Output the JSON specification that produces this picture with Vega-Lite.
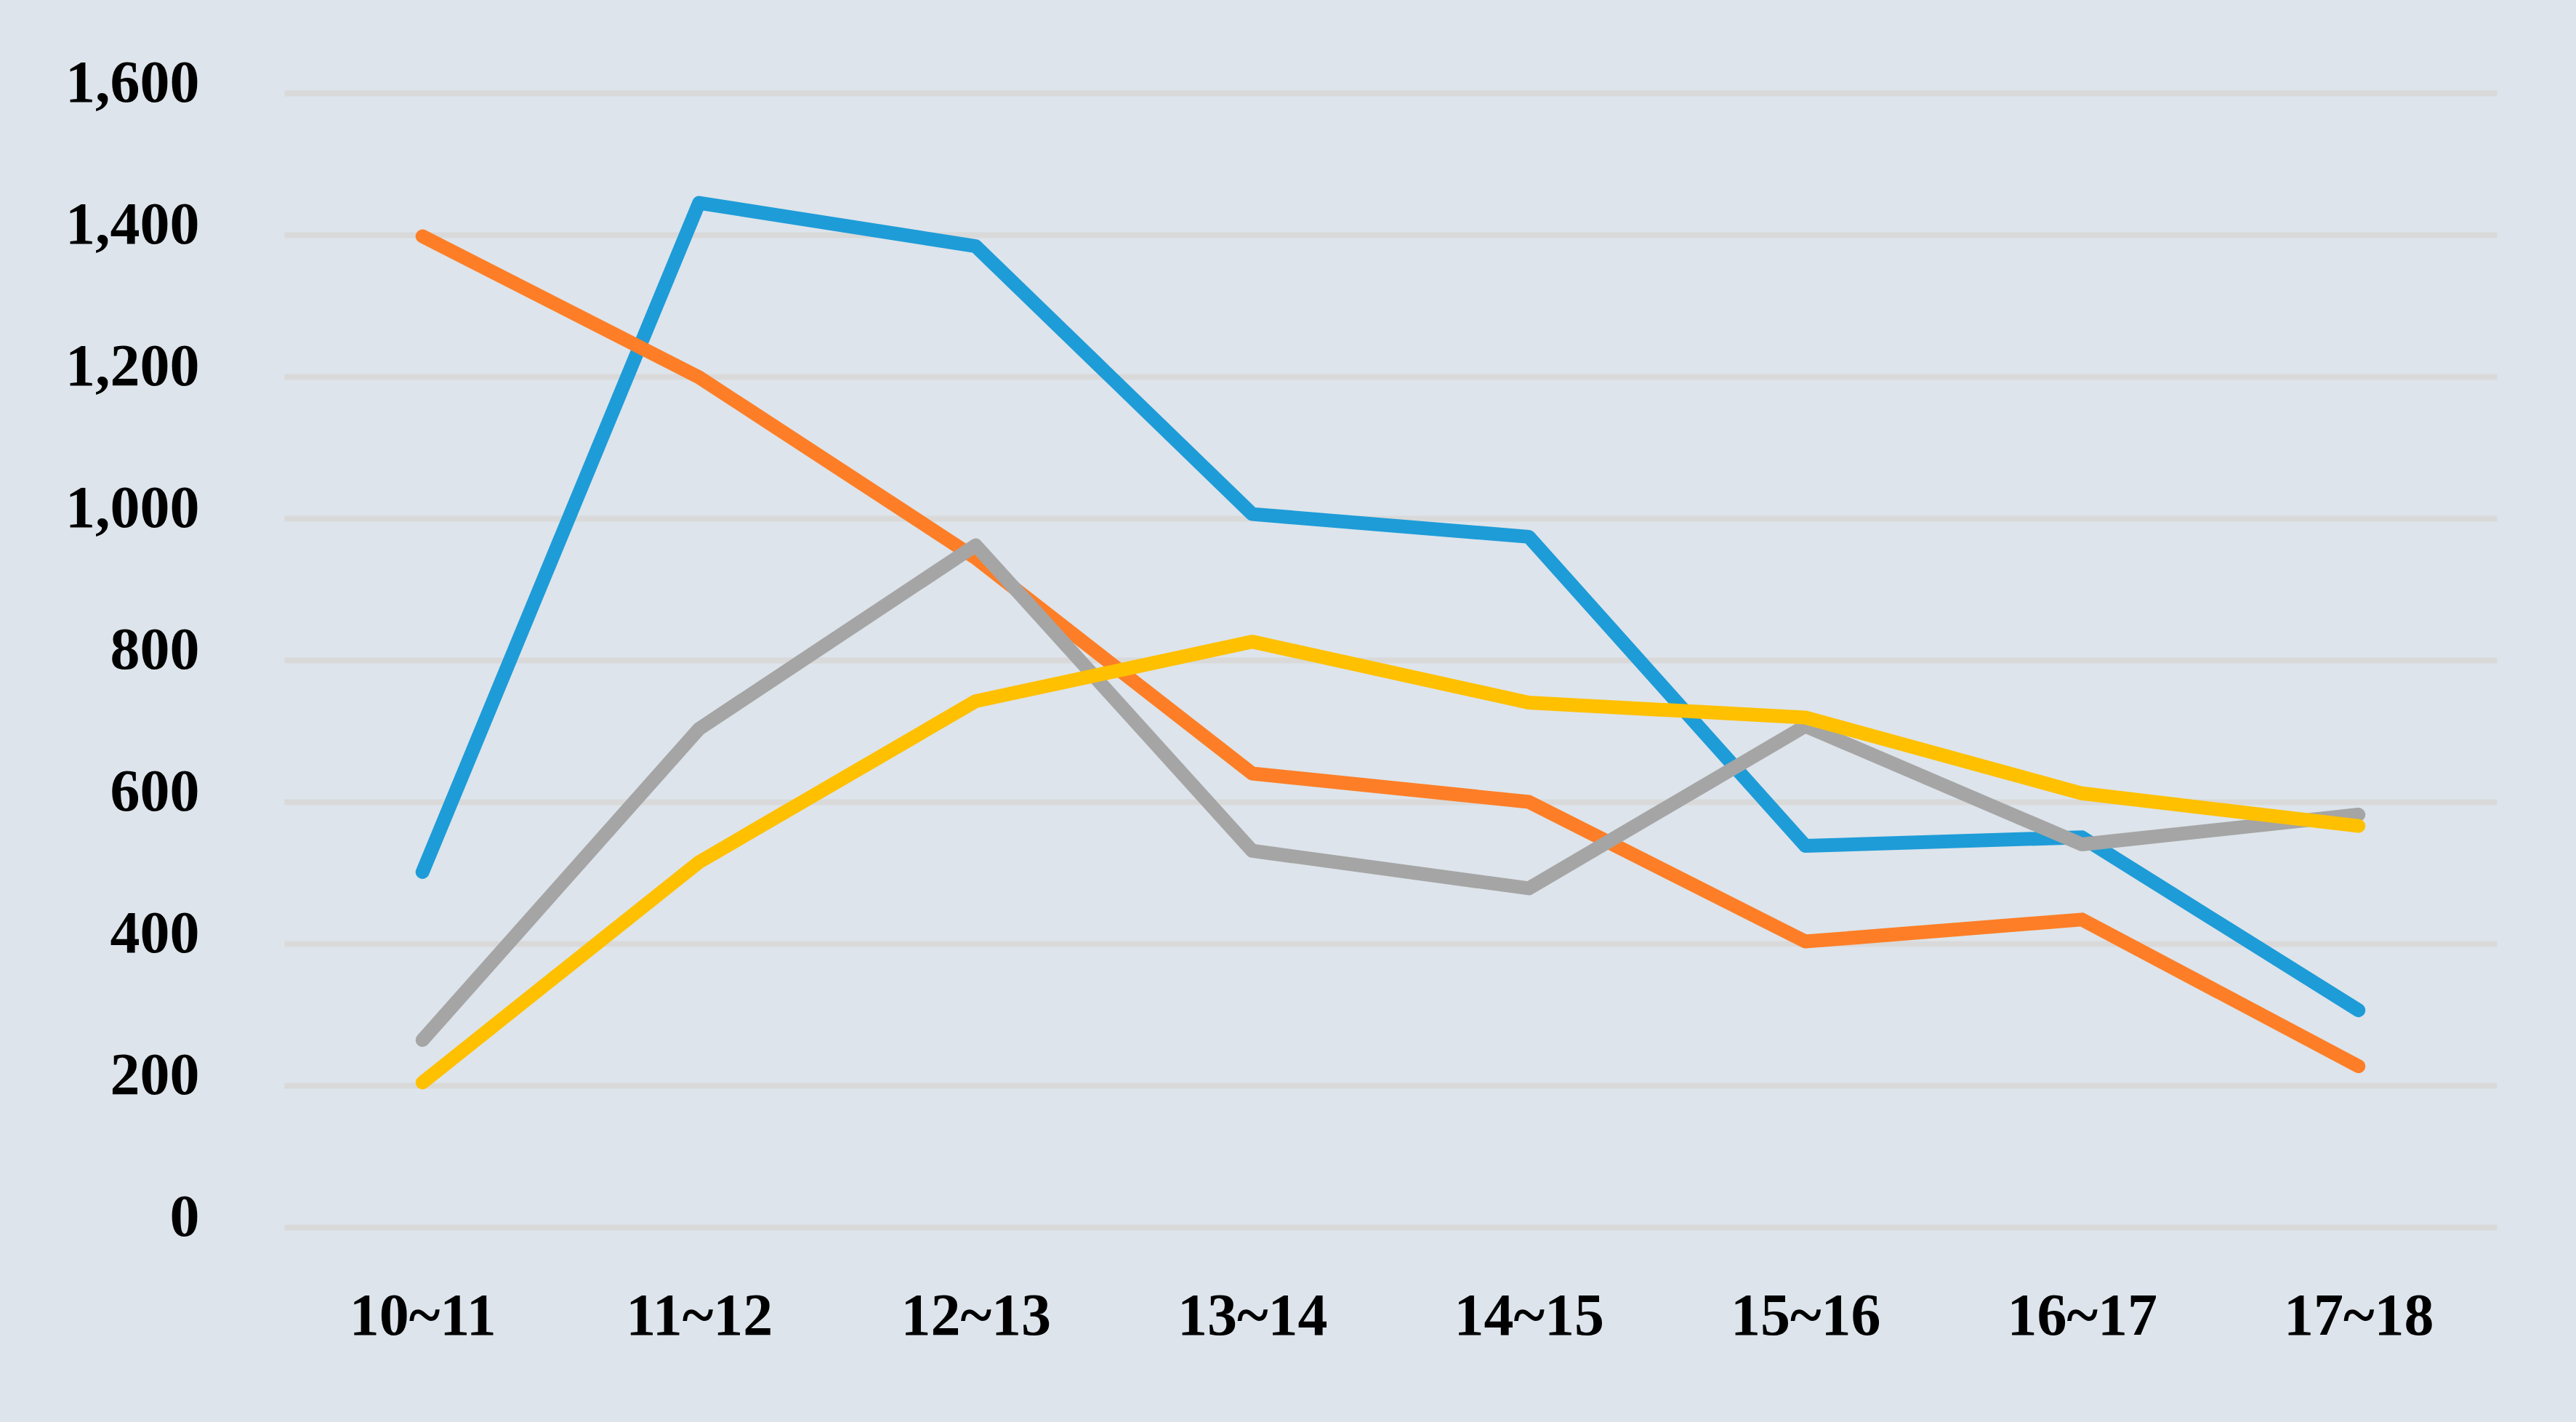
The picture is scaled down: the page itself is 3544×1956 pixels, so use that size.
{
  "$schema": "https://vega.github.io/schema/vega-lite/v6.json",
  "autosize": {"type": "none"},
  "width": 3044,
  "height": 1560,
  "padding": {"left": 391, "top": 128, "right": 109, "bottom": 268},
  "background": "#dde4eb",
  "data": {
    "values": [
      {"period": "10~11", "series": "S1", "value": 501},
      {"period": "11~12", "series": "S1", "value": 1445},
      {"period": "12~13", "series": "S1", "value": 1384},
      {"period": "13~14", "series": "S1", "value": 1006},
      {"period": "14~15", "series": "S1", "value": 974},
      {"period": "15~16", "series": "S1", "value": 538},
      {"period": "16~17", "series": "S1", "value": 550},
      {"period": "17~18", "series": "S1", "value": 306},
      {"period": "10~11", "series": "S2", "value": 1398},
      {"period": "11~12", "series": "S2", "value": 1199},
      {"period": "12~13", "series": "S2", "value": 944},
      {"period": "13~14", "series": "S2", "value": 640},
      {"period": "14~15", "series": "S2", "value": 600},
      {"period": "15~16", "series": "S2", "value": 403},
      {"period": "16~17", "series": "S2", "value": 434},
      {"period": "17~18", "series": "S2", "value": 227},
      {"period": "10~11", "series": "S3", "value": 264},
      {"period": "11~12", "series": "S3", "value": 703},
      {"period": "12~13", "series": "S3", "value": 962},
      {"period": "13~14", "series": "S3", "value": 531},
      {"period": "14~15", "series": "S3", "value": 478},
      {"period": "15~16", "series": "S3", "value": 707},
      {"period": "16~17", "series": "S3", "value": 540},
      {"period": "17~18", "series": "S3", "value": 582},
      {"period": "10~11", "series": "S4", "value": 204},
      {"period": "11~12", "series": "S4", "value": 515},
      {"period": "12~13", "series": "S4", "value": 742},
      {"period": "13~14", "series": "S4", "value": 826},
      {"period": "14~15", "series": "S4", "value": 740},
      {"period": "15~16", "series": "S4", "value": 719},
      {"period": "16~17", "series": "S4", "value": 612},
      {"period": "17~18", "series": "S4", "value": 566}
    ]
  },
  "mark": {"type": "line", "strokeWidth": 19, "strokeCap": "round", "strokeJoin": "round"},
  "encoding": {
    "x": {
      "field": "period", "type": "ordinal", "sort": null,
      "scale": {"type": "point", "padding": 0.5},
      "axis": {"title": null, "domain": false, "ticks": false, "grid": false, "labelAngle": 0,
               "labelFont": "Liberation Serif", "labelFontWeight": "bold", "labelFontSize": 82, "labelColor": "#000000",
               "labelBaseline": "middle", "labelPadding": 122, "labelLimit": 1000}
    },
    "y": {
      "field": "value", "type": "quantitative",
      "scale": {"domain": [0, 1600], "nice": false},
      "axis": {"title": null, "domain": false, "ticks": false, "values": [0,200,400,600,800,1000,1200,1400,1600],
               "format": ",d", "gridColor": "#d9d9d9", "gridWidth": 8,
               "labelFont": "Liberation Serif", "labelFontWeight": "bold", "labelFontSize": 82, "labelColor": "#000000",
               "labelBaseline": "middle", "labelPadding": 117, "labelOffset": -14, "labelLimit": 1000}
    },
    "color": {
      "field": "series", "type": "nominal", "legend": null,
      "scale": {"domain": ["S1","S2","S3","S4"], "range": ["#1e9cd8", "#fd7e26", "#a5a5a5", "#ffc000"]}
    }
  },
  "config": {"view": {"stroke": null}}
}
